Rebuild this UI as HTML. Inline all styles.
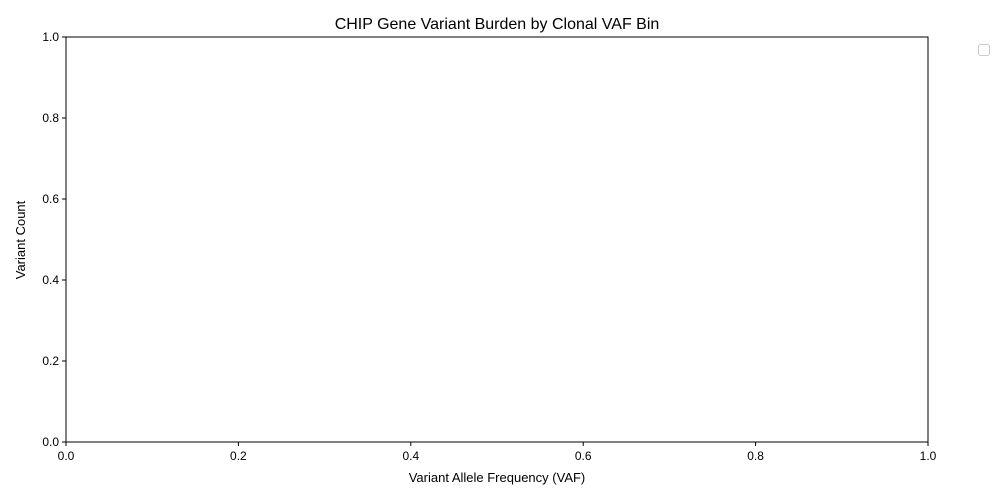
<!DOCTYPE html>
<html><head><meta charset="utf-8"><style>
html,body{margin:0;padding:0;background:#fff;}
svg{display:block;font-family:"Liberation Sans","DejaVu Sans",sans-serif;}
</style></head><body>
<svg id="chart" width="1000" height="500" viewBox="0 0 1000 500">
<rect x="0" y="0" width="1000" height="500" fill="#fff"/>
<text x="497" y="29" font-size="16" text-anchor="middle" fill="#000">CHIP Gene Variant Burden by Clonal VAF Bin</text>
<g id="axes"></g>
<rect x="66" y="37" width="862" height="405" fill="none" stroke="#000" stroke-width="1"/>
<text x="497" y="482" font-size="13" text-anchor="middle">Variant Allele Frequency (VAF)</text>
<text transform="translate(25,240) rotate(-90)" font-size="13" text-anchor="middle">Variant Count</text>
<rect x="978.5" y="44.5" width="11" height="11" rx="2" fill="#fff" stroke="#ccc"/>
</svg>
<script>
const xTicks = [0, 0.2, 0.4, 0.6, 0.8, 1.0];
const yTicks = [0, 0.2, 0.4, 0.6, 0.8, 1.0];
const xTickLabels = ["0.0", "0.2", "0.4", "0.6", "0.8", "1.0"];
const yTickLabels = ["0.0", "0.2", "0.4", "0.6", "0.8", "1.0"];
const X0 = 66, X1 = 928, Y0 = 442, Y1 = 37;
function xs(v){ return X0 + v * (X1 - X0); }
function ys(v){ return Y0 - v * (Y0 - Y1); }
const NS = "http://www.w3.org/2000/svg";
const g = document.getElementById("axes");
xTicks.forEach((t, i) => {
  const l = document.createElementNS(NS, "line");
  l.setAttribute("x1", xs(t)); l.setAttribute("x2", xs(t));
  l.setAttribute("y1", Y0); l.setAttribute("y2", Y0 + 4);
  l.setAttribute("stroke", "#000");
  
  
  g.appendChild(l);
  const tx = document.createElementNS(NS, "text");
  tx.setAttribute("x", xs(t)); tx.setAttribute("y", Y0 + 18);
  tx.setAttribute("font-size", "12"); tx.setAttribute("text-anchor", "middle");
  tx.textContent = xTickLabels[i];
  
  
  g.appendChild(tx);
});
yTicks.forEach((t, i) => {
  const l = document.createElementNS(NS, "line");
  l.setAttribute("x1", X0 - 4); l.setAttribute("x2", X0);
  l.setAttribute("y1", ys(t)); l.setAttribute("y2", ys(t));
  l.setAttribute("stroke", "#000");
  
  
  g.appendChild(l);
  const tx = document.createElementNS(NS, "text");
  tx.setAttribute("x", X0 - 7); tx.setAttribute("y", ys(t) + 4);
  tx.setAttribute("font-size", "12"); tx.setAttribute("text-anchor", "end");
  tx.textContent = yTickLabels[i];
  
  
  g.appendChild(tx);
});
</script>
</body></html>
